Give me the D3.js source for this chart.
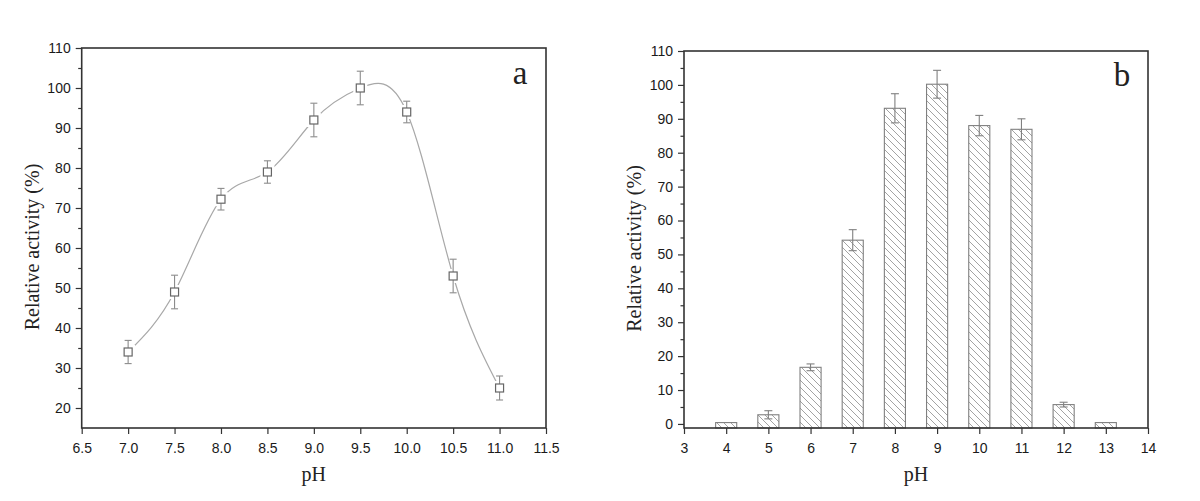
<!DOCTYPE html>
<html>
<head>
<meta charset="utf-8">
<script src="https://cdn.jsdelivr.net/npm/d3@7"></script>
<style>
  body { margin: 0; background: #fff; }
  svg { display: block; }
  .title { font-family: "Liberation Serif", "Times New Roman", serif; fill: #222; }
</style>
</head>
<body>
<div id="chart"></div>
<script>
// Panel a: activity vs pH (curve with error bars)
var phA   = [7.0, 7.5, 8.0, 8.5, 9.0, 9.5, 10.0, 10.5, 11.0];
var actA  = [34, 49, 72.2, 79, 92, 100, 94, 53, 25];
var errA  = [2.9, 4.2, 2.7, 2.8, 4.2, 4.2, 2.7, 4.2, 3];
var xTicksA = [6.5, 7.0, 7.5, 8.0, 8.5, 9.0, 9.5, 10.0, 10.5, 11.0, 11.5];
var yTicksA = [20, 30, 40, 50, 60, 70, 80, 90, 100, 110];

// Panel b: activity vs pH (hatched bars)
var phB   = [4, 5, 6, 7, 8, 9, 10, 11, 12, 13];
var actB  = [0.4, 2.7, 16.7, 54.2, 93.1, 100.2, 88, 86.9, 5.7, 0.4];
var errB  = [0, 1.2, 1.0, 3.1, 4.3, 4.1, 3, 3.1, 0.7, 0];
var xTicksB = [3, 4, 5, 6, 7, 8, 9, 10, 11, 12, 13, 14];
var yTicksB = [0, 10, 20, 30, 40, 50, 60, 70, 80, 90, 100, 110];

var svg = d3.select('#chart').append('svg')
  .attr('width', 1200)
  .attr('height', 501);

// hatch pattern for the bars
var pat = svg.append('defs').append('pattern')
  .attr('id', 'hatch')
  .attr('patternUnits', 'userSpaceOnUse')
  .attr('width', 7)
  .attr('height', 7);
pat.append('path')
  .attr('d', 'M-1,-1 L8,8 M-8,-1 L1,8 M6,-1 L15,8')
  .attr('stroke', '#999')
  .attr('stroke-width', 0.9);

var AXIS = '#333';

function styleAxis(s) {
  s.select('.domain').remove();
  s.selectAll('line').attr('stroke', AXIS).attr('stroke-width', 1.2);
  s.selectAll('text')
    .style('font-family', '"Liberation Sans", Arial, sans-serif')
    .style('font-size', '14px')
    .attr('fill', '#1a1a1a');
}

// frame, ticks, tick labels and titles for one panel
function drawAxes(x, y, xTicks, yTicks, xFmt, opts) {
  var g = svg.append('g');
  var x0 = x.range()[0], x1 = x.range()[1];
  var y0 = y.range()[0], y1 = y.range()[1];

  // minor ticks on y (half way between majors)
  var minors = [];
  for (var i = 0; i < yTicks.length - 1; i++) minors.push((yTicks[i] + yTicks[i + 1]) / 2);
  g.append('g')
    .attr('transform', `translate(${x0},0)`)
    .call(d3.axisLeft(y).tickValues(minors).tickSize(3.5).tickFormat(''))
    .call(styleAxis);

  g.append('g')
    .attr('transform', `translate(${x0},0)`)
    .call(d3.axisLeft(y).tickValues(yTicks).tickSize(6).tickPadding(5).tickFormat(d3.format('d')))
    .call(styleAxis);

  g.append('g')
    .attr('transform', `translate(0,${y0})`)
    .call(d3.axisBottom(x).tickValues(xTicks).tickSize(6).tickPadding(9).tickFormat(xFmt))
    .call(styleAxis);

  // box frame
  g.append('rect')
    .attr('x', x0).attr('y', y1)
    .attr('width', x1 - x0).attr('height', y0 - y1)
    .attr('fill', 'none')
    .attr('stroke', AXIS)
    .attr('stroke-width', 1.6);

  // axis titles
  svg.append('text').attr('class', 'title')
    .attr('x', (x0 + x1) / 2).attr('y', opts.xTitleY)
    .attr('text-anchor', 'middle')
    .style('font-size', '20px')
    .text('pH');
  svg.append('text').attr('class', 'title')
    .attr('transform', `translate(${opts.yTitleX},${(y0 + y1) / 2 + 9}) rotate(-90)`)
    .attr('text-anchor', 'middle')
    .style('font-size', '20px')
    .text('Relative activity (%)');
  svg.append('text').attr('class', 'title')
    .attr('x', opts.letterX).attr('y', opts.letterY)
    .attr('text-anchor', 'middle')
    .style('font-size', '33px')
    .text(opts.letter);
}

/*
 * Panel a
 */
var xa = d3.scaleLinear().domain([6.5, 11.5]).range([81.7, 546]);
var ya = d3.scaleLinear().domain([15, 110]).range([428, 48]);

var ptsA = phA.map((p, i) => ({ x: p, y: actA[i], e: errA[i] }));

var ga = svg.append('g');
ga.append('path')
  .datum(ptsA)
  .attr('d', d3.line().x(d => xa(d.x)).y(d => ya(d.y)).curve(d3.curveNatural))
  .attr('fill', 'none')
  .attr('stroke', '#a8a8a8')
  .attr('stroke-width', 1.2);

// white halo so the curve stops short of each marker
ga.selectAll('.halo').data(ptsA).enter().append('rect')
  .attr('x', d => xa(d.x) - 7).attr('y', d => ya(d.y) - 7)
  .attr('width', 14).attr('height', 14)
  .attr('fill', '#fff');

var eb = ga.selectAll('.err').data(ptsA).enter().append('g')
  .attr('stroke', '#8c8c8c').attr('stroke-width', 1.1);
eb.append('line')
  .attr('x1', d => xa(d.x)).attr('x2', d => xa(d.x))
  .attr('y1', d => ya(d.y + d.e)).attr('y2', d => ya(d.y - d.e));
eb.append('line')
  .attr('x1', d => xa(d.x) - 3.5).attr('x2', d => xa(d.x) + 3.5)
  .attr('y1', d => ya(d.y + d.e)).attr('y2', d => ya(d.y + d.e));
eb.append('line')
  .attr('x1', d => xa(d.x) - 3.5).attr('x2', d => xa(d.x) + 3.5)
  .attr('y1', d => ya(d.y - d.e)).attr('y2', d => ya(d.y - d.e));

ga.selectAll('.mk').data(ptsA).enter().append('rect')
  .attr('x', d => xa(d.x) - 4).attr('y', d => ya(d.y) - 4)
  .attr('width', 8).attr('height', 8)
  .attr('fill', '#fff')
  .attr('stroke', '#666')
  .attr('stroke-width', 1.2);

drawAxes(xa, ya, xTicksA, yTicksA, d3.format('.1f'),
  { xTitleY: 481, yTitleX: 39, letter: 'a', letterX: 520, letterY: 84 });

/*
 * Panel b
 */
var xb = d3.scaleLinear().domain([3, 14]).range([684, 1148]);
var yb = d3.scaleLinear().domain([-1.2, 110]).range([428, 51]);
var barW = xb(3.5) - xb(3);

var ptsB = phB.map((p, i) => ({ x: p, y: actB[i], e: errB[i] }));

var gb = svg.append('g');
gb.selectAll('rect.bar').data(ptsB).enter().append('rect')
  .attr('class', 'bar')
  .attr('x', d => xb(d.x) - barW / 2)
  .attr('y', d => yb(d.y))
  .attr('width', barW)
  .attr('height', d => yb(-1.2) - yb(d.y))
  .attr('fill', 'url(#hatch)')
  .attr('stroke', '#808080')
  .attr('stroke-width', 1.1);

var ebB = gb.selectAll('.errb').data(ptsB.filter(d => d.e > 0)).enter().append('g')
  .attr('stroke', '#808080').attr('stroke-width', 1.1);
ebB.append('line')
  .attr('x1', d => xb(d.x)).attr('x2', d => xb(d.x))
  .attr('y1', d => yb(d.y + d.e)).attr('y2', d => yb(d.y - d.e));
ebB.append('line')
  .attr('x1', d => xb(d.x) - 4).attr('x2', d => xb(d.x) + 4)
  .attr('y1', d => yb(d.y + d.e)).attr('y2', d => yb(d.y + d.e));
ebB.append('line')
  .attr('x1', d => xb(d.x) - 4).attr('x2', d => xb(d.x) + 4)
  .attr('y1', d => yb(d.y - d.e)).attr('y2', d => yb(d.y - d.e));

drawAxes(xb, yb, xTicksB, yTicksB, d3.format('d'),
  { xTitleY: 481, yTitleX: 641, letter: 'b', letterX: 1122, letterY: 86 });
</script>
</body>
</html>
